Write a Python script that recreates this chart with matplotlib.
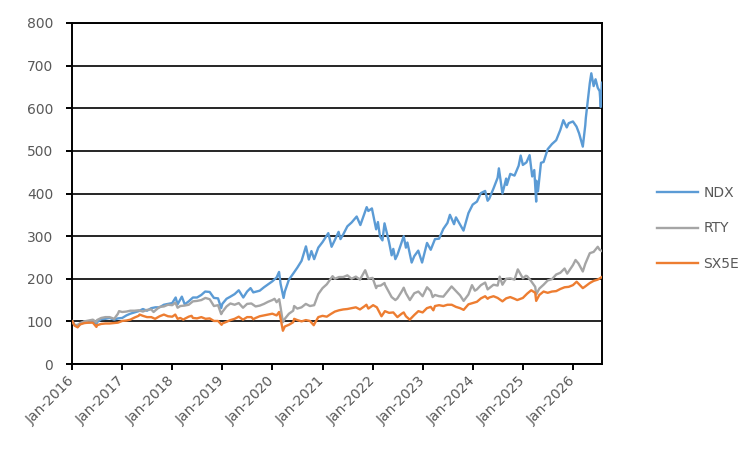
import pandas as pd
import matplotlib
matplotlib.use("Agg")
import matplotlib.pyplot as plt
import matplotlib.dates as mdates

# Valeurs (base 100 en janvier 2016)
ndx_points = [
    ("2016-01-04", 100), ("2016-01-20", 92), ("2016-02-11", 88), ("2016-03-01", 94),
    ("2016-04-01", 100), ("2016-05-01", 97), ("2016-06-01", 100), ("2016-06-27", 93),
    ("2016-07-01", 98), ("2016-08-01", 105), ("2016-09-01", 106), ("2016-10-01", 108),
    ("2016-11-04", 104), ("2016-12-01", 107), ("2017-01-01", 108), ("2017-02-01", 114),
    ("2017-03-01", 118), ("2017-04-01", 121), ("2017-05-01", 124), ("2017-06-01", 129),
    ("2017-07-01", 125), ("2017-08-01", 131), ("2017-09-01", 133), ("2017-10-01", 133),
    ("2017-11-01", 139), ("2017-12-01", 141), ("2018-01-01", 143), ("2018-01-26", 156),
    ("2018-02-09", 140), ("2018-03-12", 158), ("2018-04-02", 140), ("2018-05-01", 147),
    ("2018-06-01", 156), ("2018-07-01", 156), ("2018-08-01", 162), ("2018-08-29", 170),
    ("2018-10-01", 169), ("2018-11-01", 155), ("2018-12-01", 154), ("2018-12-24", 131),
    ("2019-01-01", 141), ("2019-02-01", 153), ("2019-03-01", 158), ("2019-04-01", 164),
    ("2019-05-01", 173), ("2019-06-03", 156), ("2019-07-01", 170), ("2019-07-26", 178),
    ("2019-08-15", 168), ("2019-10-01", 172), ("2019-11-01", 180), ("2019-12-01", 187),
    ("2020-01-01", 194), ("2020-02-01", 203), ("2020-02-19", 216), ("2020-03-01", 188),
    ("2020-03-23", 155), ("2020-04-01", 170), ("2020-05-01", 198), ("2020-06-01", 212),
    ("2020-07-01", 226), ("2020-08-01", 242), ("2020-09-02", 276), ("2020-09-23", 245),
    ("2020-10-12", 265), ("2020-11-01", 246), ("2020-12-01", 273), ("2021-01-01", 286),
    ("2021-02-12", 307), ("2021-03-08", 275), ("2021-04-01", 291), ("2021-04-28", 310),
    ("2021-05-12", 293), ("2021-06-01", 304), ("2021-07-01", 323), ("2021-08-01", 332),
    ("2021-09-07", 346), ("2021-10-04", 326), ("2021-11-01", 352), ("2021-11-19", 368),
    ("2021-12-01", 359), ("2021-12-27", 365), ("2022-01-27", 316), ("2022-02-09", 333),
    ("2022-02-24", 299), ("2022-03-14", 290), ("2022-03-29", 330), ("2022-05-01", 286),
    ("2022-05-20", 255), ("2022-06-01", 270), ("2022-06-16", 246), ("2022-07-01", 256),
    ("2022-08-16", 300), ("2022-09-01", 273), ("2022-09-12", 285), ("2022-10-13", 238),
    ("2022-11-01", 253), ("2022-11-30", 266), ("2022-12-28", 238), ("2023-02-02", 284),
    ("2023-03-01", 268), ("2023-04-01", 293), ("2023-05-01", 294), ("2023-06-01", 317),
    ("2023-07-01", 331), ("2023-07-19", 350), ("2023-08-18", 328), ("2023-09-01", 344),
    ("2023-10-01", 327), ("2023-10-26", 313), ("2023-12-01", 354), ("2024-01-01", 374),
    ("2024-02-01", 381), ("2024-03-01", 401), ("2024-04-01", 406), ("2024-04-19", 383),
    ("2024-05-01", 388), ("2024-06-01", 412), ("2024-07-01", 437), ("2024-07-10", 459),
    ("2024-08-05", 400), ("2024-09-01", 435), ("2024-09-06", 420), ("2024-10-01", 446),
    ("2024-11-01", 442), ("2024-12-01", 465), ("2024-12-16", 489), ("2025-01-01", 467),
    ("2025-01-27", 473), ("2025-02-19", 490), ("2025-03-10", 440), ("2025-03-25", 455),
    ("2025-04-08", 381), ("2025-04-09", 430), ("2025-04-21", 405), ("2025-05-01", 435),
    ("2025-05-13", 472), ("2025-06-01", 474), ("2025-07-01", 504), ("2025-08-01", 516),
    ("2025-09-01", 525), ("2025-10-01", 549), ("2025-10-23", 572), ("2025-11-17", 555),
    ("2025-12-01", 565), ("2026-01-01", 569), ("2026-01-27", 557), ("2026-02-15", 541),
    ("2026-03-14", 510), ("2026-04-01", 560), ("2026-04-05", 577), ("2026-05-04", 659),
    ("2026-05-15", 682), ("2026-06-01", 652), ("2026-06-15", 668), ("2026-07-01", 648),
    ("2026-07-15", 640), ("2026-07-23", 603), ("2026-07-31", 660),
]

rty_points = [
    ("2016-01-04", 100), ("2016-01-20", 91), ("2016-02-11", 92), ("2016-03-01", 96),
    ("2016-04-01", 100), ("2016-05-01", 102), ("2016-06-01", 104), ("2016-06-27", 98),
    ("2016-07-01", 103), ("2016-08-01", 108), ("2016-09-01", 110), ("2016-10-01", 110),
    ("2016-11-04", 106), ("2016-12-01", 118), ("2016-12-09", 124), ("2017-01-01", 122),
    ("2017-02-01", 123), ("2017-03-01", 125), ("2017-04-01", 125), ("2017-05-01", 126),
    ("2017-06-01", 123), ("2017-07-01", 127), ("2017-08-01", 128), ("2017-08-18", 122),
    ("2017-09-01", 126), ("2017-10-01", 134), ("2017-11-01", 135), ("2017-12-01", 139),
    ("2018-01-01", 138), ("2018-01-24", 144), ("2018-02-09", 132), ("2018-03-01", 136),
    ("2018-04-01", 137), ("2018-05-01", 139), ("2018-06-01", 147), ("2018-07-01", 148),
    ("2018-08-01", 150), ("2018-08-31", 155), ("2018-10-01", 152), ("2018-11-01", 136),
    ("2018-12-01", 138), ("2018-12-24", 117), ("2019-01-01", 122), ("2019-02-01", 135),
    ("2019-03-01", 142), ("2019-04-01", 139), ("2019-05-01", 143), ("2019-06-01", 132),
    ("2019-07-01", 141), ("2019-08-01", 142), ("2019-09-01", 135), ("2019-10-01", 137),
    ("2019-11-01", 141), ("2019-12-01", 146), ("2020-01-01", 150), ("2020-01-17", 153),
    ("2020-02-01", 145), ("2020-02-20", 152), ("2020-03-01", 133), ("2020-03-18", 98),
    ("2020-04-01", 106), ("2020-05-01", 118), ("2020-06-01", 125), ("2020-06-08", 136),
    ("2020-07-01", 130), ("2020-08-01", 133), ("2020-09-01", 141), ("2020-10-01", 136),
    ("2020-11-01", 138), ("2020-12-01", 164), ("2021-01-01", 178), ("2021-02-01", 187),
    ("2021-03-15", 206), ("2021-04-01", 200), ("2021-05-01", 204), ("2021-06-01", 204),
    ("2021-07-01", 208), ("2021-08-01", 200), ("2021-09-01", 205), ("2021-10-01", 198),
    ("2021-11-08", 220), ("2021-12-01", 200), ("2022-01-01", 202), ("2022-01-27", 178),
    ("2022-02-01", 183), ("2022-03-01", 184), ("2022-03-29", 190), ("2022-04-01", 186),
    ("2022-05-01", 168), ("2022-05-20", 157), ("2022-06-16", 150), ("2022-07-01", 154),
    ("2022-08-01", 170), ("2022-08-16", 179), ("2022-09-01", 166), ("2022-09-30", 150),
    ("2022-11-01", 166), ("2022-12-01", 170), ("2023-01-01", 159), ("2023-02-02", 180),
    ("2023-03-01", 171), ("2023-03-15", 157), ("2023-04-01", 162), ("2023-05-01", 159),
    ("2023-06-01", 158), ("2023-07-01", 170), ("2023-07-31", 182), ("2023-09-01", 171),
    ("2023-10-01", 161), ("2023-10-27", 148), ("2023-12-01", 163), ("2023-12-27", 185),
    ("2024-01-17", 172), ("2024-02-01", 175), ("2024-03-01", 185), ("2024-04-01", 191),
    ("2024-04-19", 175), ("2024-05-01", 178), ("2024-06-01", 186), ("2024-07-01", 184),
    ("2024-07-16", 205), ("2024-08-05", 186), ("2024-09-01", 200), ("2024-10-01", 201),
    ("2024-11-01", 198), ("2024-11-25", 222), ("2025-01-01", 201), ("2025-01-23", 207),
    ("2025-02-01", 206), ("2025-03-01", 195), ("2025-04-01", 181), ("2025-04-08", 163),
    ("2025-05-01", 177), ("2025-06-01", 186), ("2025-07-01", 196), ("2025-08-01", 199),
    ("2025-09-01", 210), ("2025-10-01", 214), ("2025-11-01", 224), ("2025-11-20", 212),
    ("2026-01-01", 232), ("2026-01-20", 244), ("2026-02-10", 236), ("2026-03-14", 217),
    ("2026-04-01", 235), ("2026-05-04", 260), ("2026-06-01", 263), ("2026-07-01", 275),
    ("2026-07-15", 268), ("2026-07-31", 265),
]

sx5e_points = [
    ("2016-01-04", 100), ("2016-01-20", 90), ("2016-02-11", 86), ("2016-03-01", 93),
    ("2016-04-01", 96), ("2016-05-01", 97), ("2016-06-01", 97), ("2016-06-27", 87),
    ("2016-07-01", 91), ("2016-08-01", 94), ("2016-09-01", 95), ("2016-10-01", 95),
    ("2016-11-01", 96), ("2016-12-01", 97), ("2017-01-01", 101), ("2017-02-01", 102),
    ("2017-03-01", 104), ("2017-04-01", 109), ("2017-05-01", 113), ("2017-05-08", 116),
    ("2017-06-01", 113), ("2017-07-01", 110), ("2017-08-01", 110), ("2017-08-29", 106),
    ("2017-10-01", 112), ("2017-11-01", 116), ("2017-12-01", 112), ("2018-01-01", 111),
    ("2018-01-23", 116), ("2018-02-09", 106), ("2018-03-01", 108), ("2018-03-23", 104),
    ("2018-04-01", 106), ("2018-05-01", 111), ("2018-05-22", 113), ("2018-06-01", 108),
    ("2018-07-01", 107), ("2018-08-01", 110), ("2018-09-01", 106), ("2018-10-01", 107),
    ("2018-11-01", 101), ("2018-12-01", 101), ("2018-12-27", 92), ("2019-01-01", 95),
    ("2019-02-01", 99), ("2019-03-01", 103), ("2019-04-01", 106), ("2019-05-01", 111),
    ("2019-06-01", 104), ("2019-07-01", 110), ("2019-08-01", 110), ("2019-08-15", 105),
    ("2019-09-01", 108), ("2019-10-01", 112), ("2019-11-01", 114), ("2019-12-01", 116),
    ("2020-01-01", 118), ("2020-02-01", 114), ("2020-02-19", 122), ("2020-03-01", 107),
    ("2020-03-18", 78), ("2020-04-01", 88), ("2020-05-01", 92), ("2020-06-01", 98),
    ("2020-06-08", 106), ("2020-07-01", 103), ("2020-08-01", 100), ("2020-09-01", 103),
    ("2020-10-01", 101), ("2020-10-29", 91), ("2020-11-01", 93), ("2020-12-01", 110),
    ("2021-01-01", 113), ("2021-02-01", 111), ("2021-03-01", 117), ("2021-04-01", 123),
    ("2021-05-01", 126), ("2021-06-01", 128), ("2021-07-01", 129), ("2021-08-01", 131),
    ("2021-09-01", 133), ("2021-10-01", 128), ("2021-11-01", 135), ("2021-11-17", 139),
    ("2021-12-01", 130), ("2022-01-05", 138), ("2022-02-01", 133), ("2022-03-07", 112),
    ("2022-04-01", 124), ("2022-05-01", 120), ("2022-06-01", 121), ("2022-07-01", 110),
    ("2022-08-01", 118), ("2022-08-16", 121), ("2022-09-01", 112), ("2022-09-29", 104),
    ("2022-11-01", 115), ("2022-12-01", 124), ("2023-01-01", 121), ("2023-02-01", 131),
    ("2023-03-01", 134), ("2023-03-20", 126), ("2023-04-01", 136), ("2023-05-01", 138),
    ("2023-06-01", 136), ("2023-07-01", 139), ("2023-08-01", 139), ("2023-09-01", 134),
    ("2023-10-01", 131), ("2023-10-27", 127), ("2023-12-01", 140), ("2024-01-01", 143),
    ("2024-02-01", 146), ("2024-03-01", 154), ("2024-04-01", 159), ("2024-04-19", 153),
    ("2024-05-01", 156), ("2024-06-01", 159), ("2024-07-01", 155), ("2024-08-05", 147),
    ("2024-09-01", 154), ("2024-10-01", 157), ("2024-11-01", 153), ("2024-11-21", 150),
    ("2025-01-01", 155), ("2025-02-01", 165), ("2025-03-03", 173), ("2025-04-01", 167),
    ("2025-04-08", 148), ("2025-05-01", 162), ("2025-06-01", 170), ("2025-07-01", 167),
    ("2025-08-01", 170), ("2025-09-01", 171), ("2025-10-01", 176), ("2025-11-01", 180),
    ("2025-12-01", 181), ("2026-01-01", 185), ("2026-01-28", 193), ("2026-03-14", 178),
    ("2026-04-01", 182), ("2026-05-04", 190), ("2026-06-01", 195), ("2026-07-01", 198),
    ("2026-07-31", 204),
]

series_names = ["NDX", "RTY", "SX5E"]
series_colors = ["#5B9BD5", "#A5A5A5", "#ED7D31"]
y_ticks = [0, 100, 200, 300, 400, 500, 600, 700, 800]

text_color = "#595959"
plt.rcParams["font.family"] = ["DejaVu Sans"]

fig = plt.figure(figsize=(7.53, 4.55), dpi=100)
ax = fig.add_axes([72 / 753, 91 / 455, 530 / 753, 341 / 455])

for name, color, points in zip(series_names, series_colors, [ndx_points, rty_points, sx5e_points]):
    df = pd.DataFrame(points, columns=["Date", "Valeur"])
    df["Date"] = pd.to_datetime(df["Date"])
    ax.plot(df["Date"], df["Valeur"], color=color, linewidth=1.7, label=name, zorder=3)

ax.set_ylim(0, 800)
ax.set_yticks(y_ticks)
ax.set_xlim(pd.Timestamp("2016-01-01"), pd.Timestamp("2026-08-01"))
ax.xaxis.set_major_locator(mdates.YearLocator())
ax.xaxis.set_major_formatter(mdates.DateFormatter("%b-%Y"))

# Grille horizontale noire comme dans Excel
ax.yaxis.grid(True, color="black", linewidth=1.2, zorder=1)
ax.set_axisbelow(True)
for side in ["left", "right", "top", "bottom"]:
    ax.spines[side].set_color("black")
    ax.spines[side].set_linewidth(1.4)

ax.tick_params(axis="both", direction="out", length=4.5, width=1.4, color="black",
               labelcolor=text_color, labelsize=10)
ax.tick_params(axis="y", pad=9)
ax.tick_params(axis="x", pad=6)
for label in ax.get_xticklabels():
    label.set_rotation(45)
    label.set_ha("right")
    label.set_va("center")
    label.set_rotation_mode("anchor")

fig.legend(loc="upper left", bbox_to_anchor=(650 / 753, 1 - 179 / 455), frameon=False,
           borderpad=0, handlelength=2.95, handletextpad=0.4, labelspacing=1.55,
           fontsize=10, labelcolor=text_color)

fig.savefig("out.png", dpi=100)
